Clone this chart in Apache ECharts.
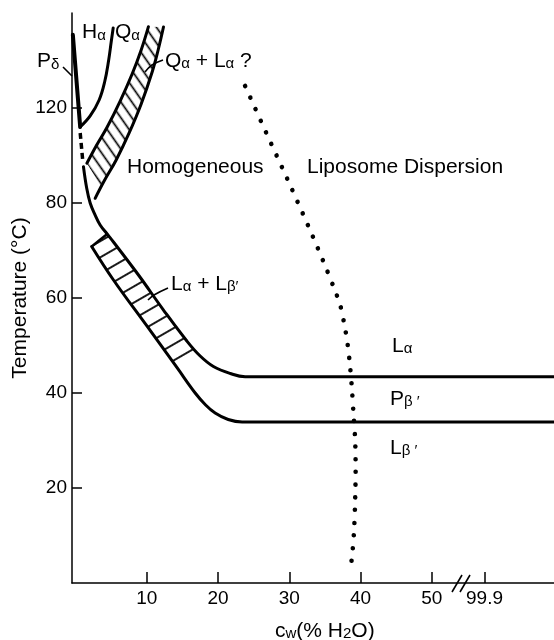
<!DOCTYPE html>
<html><head><meta charset="utf-8">
<script src="https://cdn.jsdelivr.net/npm/echarts@6/dist/echarts.min.js"></script>
<style>html,body{margin:0;padding:0;background:#fff}#c{width:554px;height:640px}</style>
</head><body><div id="c"></div>
<script>
const FONT = '"Liberation Sans", Arial, Helvetica, sans-serif';

// Axis ticks (linear axis units; right of the axis break, 99.9 sits at 57.4;
// the y axis is compressed above 80, its top tick reads 120)
const xTickValues = [10, 20, 30, 40, 50, 57.4];
const xTickLabels = ['10', '20', '30', '40', '50', '99.9'];
const yTickValues = [20, 40, 60, 80, 100];
const yTickLabels = ['20', '40', '60', '80', '120'];

// Phase boundaries [cw, T(axis units)]
const pDeltaLine = [[-0.38, 115.4], [0.65, 96.0]];
const hAlphaCurve = [[0.65, 96.0], [2.05, 98.32], [3.31, 101.68], [4.08, 105.47], [4.65, 110.11], [5.0, 113.89], [5.28, 116.84]];
const dashedGap = [[0.65, 94.74], [1.0, 89.05]];
const mainBoundary = [[1.11, 87.64], [1.56, 83.16], [2.05, 80.0], [2.75, 77.47], [3.45, 75.37], [4.44, 73.47], [5.32, 71.79], [8.83, 64.84], [12.34, 57.47], [15.62, 50.95], [17.49, 47.79], [19.35, 45.58], [21.70, 44.11], [23.81, 43.43], [67.15, 43.43]];
const lowerBoundary = [[2.26, 70.84], [5.32, 63.79], [10.01, 54.11], [14.22, 45.37], [16.79, 40.0], [18.19, 37.58], [19.59, 35.79], [21.42, 34.42], [23.38, 33.89], [67.15, 33.89]];
const qBandLeft = [[1.59, 88.36], [2.89, 92.0], [4.44, 96.0], [6.26, 101.47], [7.94, 107.16], [9.21, 112.21], [10.23, 117.12]];
const qBandRight = [[2.75, 80.99], [4.01, 84.63], [5.70, 89.05], [7.52, 94.74], [9.21, 100.84], [10.75, 107.58], [11.59, 112.21], [12.34, 117.05]];
const qBandHatchEnd = [3.59, 83.37];
const lBandUpper = [[4.44, 73.47], [5.32, 71.79], [8.83, 64.84], [12.34, 57.47], [15.62, 50.95], [16.79, 48.93]];
const lBandLower = [[2.26, 70.84], [5.32, 63.79], [10.01, 54.11], [14.22, 45.37]];
const lBandCap = [[2.26, 70.84], [4.44, 73.47]];
const liposomeBoundary = [[23.80, 104.63], [26.75, 94.80], [29.74, 84.99], [32.72, 74.95], [34.85, 67.43], [36.20, 62.38], [37.14, 58.53], [37.74, 54.32], [38.16, 50.53], [38.47, 46.53], [38.75, 41.68], [39.01, 35.58], [39.24, 30.11], [39.31, 23.79], [39.24, 17.47], [39.10, 11.37], [38.89, 6.95], [38.64, 3.37]];

function makePattern(period, angleDeg, lw) {
  const c = document.createElement('canvas');
  c.width = 24; c.height = period;
  const ctx = c.getContext('2d');
  ctx.strokeStyle = '#000'; ctx.lineWidth = lw;
  ctx.beginPath(); ctx.moveTo(0, period / 2); ctx.lineTo(24, period / 2); ctx.stroke();
  return { image: c, repeat: 'repeat', rotation: angleDeg * Math.PI / 180 };
}

function hatchSeries(polygon, pattern) {
  return {
    type: 'custom', coordinateSystem: 'cartesian2d', data: [[0, 0]], silent: true, z: 1,
    renderItem(params, api) {
      return { type: 'polygon', shape: { points: polygon.map(p => api.coord(p)) }, style: { fill: pattern, stroke: null } };
    }
  };
}

function curve(data, extra) {
  return Object.assign({
    type: 'line', data, symbol: 'none', silent: true, z: 3,
    lineStyle: { color: '#000', width: 3, cap: 'round', join: 'round' }
  }, extra || {});
}

const qPolygon = qBandLeft.concat(qBandRight.slice().reverse(), [qBandHatchEnd]);
const lPolygon = lBandLower.concat(lBandUpper.slice().reverse());

const R = {
  m: { fontSize: 21, lineHeight: 21, verticalAlign: 'bottom', fontFamily: FONT, fill: '#000' },
  s: { fontSize: 15, lineHeight: 15, verticalAlign: 'bottom', fontFamily: FONT, fill: '#000' }
};
function txt(x, y, text) {
  return { type: 'text', x, y, silent: true, z: 10,
    style: { text, rich: R, fill: '#000', font: '21px ' + FONT, verticalAlign: 'middle', align: 'left' } };
}
function seg(points, smooth) {
  return { type: 'polyline', silent: true, z: 10, shape: { points, smooth: smooth || 0 },
    style: { stroke: '#000', lineWidth: 1.6, fill: null } };
}

const chart = echarts.init(document.getElementById('c'), null, { renderer: 'canvas' });
chart.setOption({
  animation: false,
  backgroundColor: '#fff',
  grid: { left: 72, right: 0, top: 13, bottom: 57, outerBoundsMode: 'none', containLabel: false },
  xAxis: {
    type: 'value', min: -0.5, max: 67.15,
    axisLine: { show: true, onZero: false, lineStyle: { color: '#000', width: 1.5 } },
    axisTick: { show: true, inside: true, length: 11, customValues: xTickValues, lineStyle: { color: '#000', width: 1.5 } },
    axisLabel: { customValues: xTickValues, margin: 6, color: '#000', fontSize: 19, fontFamily: FONT,
      formatter: v => xTickLabels[xTickValues.indexOf(v)] },
    splitLine: { show: false }
  },
  yAxis: {
    type: 'value', min: 0, max: 120,
    name: 'Temperature (°C)', nameLocation: 'middle', nameGap: 41, nameRotate: 90, nameMoveOverlap: false,
    nameTextStyle: { color: '#000', fontSize: 21, fontFamily: FONT },
    axisLine: { show: true, onZero: false, lineStyle: { color: '#000', width: 1.5 } },
    axisTick: { show: true, inside: true, length: 10, customValues: yTickValues, lineStyle: { color: '#000', width: 1.5 } },
    axisLabel: { customValues: yTickValues, margin: 5, color: '#000', fontSize: 19, fontFamily: FONT,
      formatter: v => yTickLabels[yTickValues.indexOf(v)] },
    splitLine: { show: false }
  },
  series: [
    hatchSeries(qPolygon, makePattern(9, 55, 1.7)),
    hatchSeries(lPolygon, makePattern(14, -30, 1.8)),
    curve(pDeltaLine, { lineStyle: { color: '#000', width: 4, cap: 'round' } }),
    curve(hAlphaCurve, { smooth: 0.4 }),
    curve(dashedGap, { lineStyle: { color: '#000', width: 3.5, type: [6, 4] } }),
    curve(mainBoundary, { smooth: 0.4 }),
    curve(lowerBoundary, { smooth: 0.4 }),
    curve(qBandLeft, { smooth: 0.4 }),
    curve(qBandRight, { smooth: 0.4 }),
    curve(lBandCap, { lineStyle: { color: '#000', width: 2.5 } }),
    curve(liposomeBoundary, { smooth: 0.3, lineStyle: { color: '#000', width: 4.6, cap: 'round', type: [0.01, 12.7] } })
  ],
  graphic: [
    txt(37, 61.5, '{m|P}{s|δ}'),
    txt(82, 32.5, '{m|H}{s|α}'),
    txt(115, 32.5, '{m|Q}{s|α}'),
    txt(165, 61, '{m|Q}{s|α}{m| + L}{s|α}{m| ?}'),
    txt(127, 167, '{m|Homogeneous}'),
    txt(307, 167, '{m|Liposome Dispersion}'),
    txt(171, 284, '{m|L}{s|α}{m| + L}{s|β′}'),
    txt(392, 346, '{m|L}{s|α}'),
    txt(390, 399, '{m|P}{s|β ′}'),
    txt(390, 448, '{m|L}{s|β ′}'),
    txt(275, 631, '{m|c}{s|w}{m|(% H}{s|2}{m|O)}'),
    seg([[63, 67], [72, 76]]),
    seg([[163, 60], [152, 65], [145, 72]], 0.4),
    seg([[168, 288], [154, 295], [148, 300]], 0.4),
    seg([[452, 592], [462, 575]]),
    seg([[460, 592], [470, 575]])
  ]
});
</script></body></html>
